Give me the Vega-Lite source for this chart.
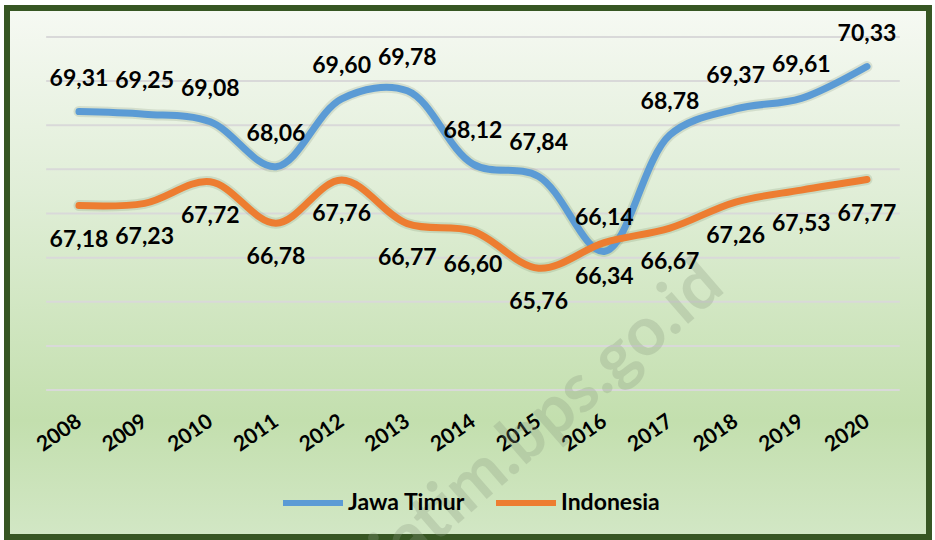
{
  "$schema": "https://vega.github.io/schema/vega-lite/v6.json",
  "width": 922,
  "height": 529,
  "autosize": {"type": "none"},
  "padding": {"left": 7, "top": 8, "right": 6, "bottom": 3},
  "background": "#ffffff",
  "config": {
    "locale": {"number": {"decimal": ",", "thousands": ".", "grouping": [3], "currency": ["", ""]}},
    "view": {
      "fill": {"gradient": "linear", "x1": 0, "y1": 0, "x2": 0, "y2": 1,
        "stops": [
          {"offset": 0, "color": "#f6f9f3"},
          {"offset": 0.35, "color": "#e0eed7"},
          {"offset": 0.78, "color": "#c3dfae"},
          {"offset": 1, "color": "#d2e7c5"}
        ]},
      "stroke": "#375623",
      "strokeWidth": 6
    },
    "axisX": {
      "title": null, "labelAngle": -35, "labelAlign": "right", "labelBaseline": "middle",
      "labelFont": "Lato", "labelFontWeight": "bold", "labelFontSize": 21, "labelColor": "#000000",
      "labelPadding": 0, "ticks": false, "tickSize": 0, "domain": false, "grid": false, "labelOverlap": false
    },
    "font": "Lato"
  },
  "datasets": {
    "series": [
      {"year": 2008, "region": "Jawa Timur", "value": 69.31},
      {"year": 2009, "region": "Jawa Timur", "value": 69.25},
      {"year": 2010, "region": "Jawa Timur", "value": 69.08},
      {"year": 2011, "region": "Jawa Timur", "value": 68.06},
      {"year": 2012, "region": "Jawa Timur", "value": 69.60},
      {"year": 2013, "region": "Jawa Timur", "value": 69.78},
      {"year": 2014, "region": "Jawa Timur", "value": 68.12},
      {"year": 2015, "region": "Jawa Timur", "value": 67.84},
      {"year": 2016, "region": "Jawa Timur", "value": 66.14},
      {"year": 2017, "region": "Jawa Timur", "value": 68.78},
      {"year": 2018, "region": "Jawa Timur", "value": 69.37},
      {"year": 2019, "region": "Jawa Timur", "value": 69.61},
      {"year": 2020, "region": "Jawa Timur", "value": 70.33},
      {"year": 2008, "region": "Indonesia", "value": 67.18},
      {"year": 2009, "region": "Indonesia", "value": 67.23},
      {"year": 2010, "region": "Indonesia", "value": 67.72},
      {"year": 2011, "region": "Indonesia", "value": 66.78},
      {"year": 2012, "region": "Indonesia", "value": 67.76},
      {"year": 2013, "region": "Indonesia", "value": 66.77},
      {"year": 2014, "region": "Indonesia", "value": 66.60},
      {"year": 2015, "region": "Indonesia", "value": 65.76},
      {"year": 2016, "region": "Indonesia", "value": 66.34},
      {"year": 2017, "region": "Indonesia", "value": 66.67},
      {"year": 2018, "region": "Indonesia", "value": 67.26},
      {"year": 2019, "region": "Indonesia", "value": 67.53},
      {"year": 2020, "region": "Indonesia", "value": 67.77}
    ],
    "grid": [
      {"level": 63}, {"level": 64}, {"level": 65}, {"level": 66}, {"level": 67},
      {"level": 68}, {"level": 69}, {"level": 70}, {"level": 71}
    ]
  },
  "layer": [
    {
      "data": {"name": "grid"},
      "mark": {"type": "rule", "color": "#d9d9d9", "strokeWidth": 2},
      "encoding": {
        "x": {"datum": 2007.5, "type": "quantitative", "scale": {"domain": [2006.904, 2020.945], "nice": false, "zero": false},
          "axis": {"values": [2008, 2009, 2010, 2011, 2012, 2013, 2014, 2015, 2016, 2017, 2018, 2019, 2020], "format": "d", "offset": -118}},
        "x2": {"datum": 2020.5},
        "y": {"field": "level", "type": "quantitative", "scale": {"domain": [59.669, 71.657], "nice": false, "zero": false}, "axis": null}
      }
    },
    {
      "data": {"name": "series"},
      "mark": {"type": "text", "text": "jatim.bps.go.id", "font": "Lato", "fontWeight": "bold", "fontSize": 68, "angle": -41, "color": "#8a9a80", "opacity": 0.28, "align": "center", "baseline": "middle"},
      "transform": [{"filter": "datum.year === 2008 && datum.region === 'Jawa Timur'"}],
      "encoding": {
        "x": {"datum": 2015.15, "type": "quantitative",
          "axis": {"values": [2008, 2009, 2010, 2011, 2012, 2013, 2014, 2015, 2016, 2017, 2018, 2019, 2020], "format": "d", "offset": -118}},
        "y": {"datum": 62.35, "type": "quantitative", "axis": null}
      }
    },
    {
      "data": {"name": "series"},
      "mark": {"type": "line", "interpolate": "catmull-rom", "strokeWidth": 11, "strokeCap": "round", "color": "#2f4a1f", "opacity": 0.12},
      "encoding": {
        "x": {"field": "year", "type": "quantitative",
          "axis": {"values": [2008, 2009, 2010, 2011, 2012, 2013, 2014, 2015, 2016, 2017, 2018, 2019, 2020], "format": "d", "offset": -118}},
        "y": {"field": "value", "type": "quantitative", "axis": null},
        "detail": {"field": "region", "type": "nominal"}
      }
    },
    {
      "data": {"name": "series"},
      "mark": {"type": "line", "interpolate": "catmull-rom", "strokeWidth": 7, "strokeCap": "round"},
      "encoding": {
        "x": {"field": "year", "type": "quantitative",
          "axis": {"values": [2008, 2009, 2010, 2011, 2012, 2013, 2014, 2015, 2016, 2017, 2018, 2019, 2020], "format": "d", "offset": -118}},
        "y": {"field": "value", "type": "quantitative", "axis": null},
        "color": {"field": "region", "type": "nominal",
          "scale": {"domain": ["Jawa Timur", "Indonesia"], "range": ["#5b9bd5", "#ed7d31"]},
          "legend": {"title": null, "orient": "none", "legendX": 273, "legendY": 462, "direction": "horizontal",
            "symbolType": "stroke", "symbolSize": 3600, "symbolStrokeWidth": 6,
            "labelFont": "Lato", "labelFontWeight": "bold", "labelFontSize": 23, "labelColor": "#000000",
            "labelOffset": 2, "columnPadding": 19}}
      }
    },
    {
      "data": {"name": "series"},
      "transform": [{"filter": "datum.region === 'Jawa Timur'"}],
      "mark": {"type": "text", "font": "Lato", "fontWeight": "bold", "fontSize": 23, "color": "#000000", "dy": -33, "baseline": "middle", "align": "center"},
      "encoding": {
        "x": {"field": "year", "type": "quantitative",
          "axis": {"values": [2008, 2009, 2010, 2011, 2012, 2013, 2014, 2015, 2016, 2017, 2018, 2019, 2020], "format": "d", "offset": -118}},
        "y": {"field": "value", "type": "quantitative", "axis": null},
        "text": {"field": "value", "type": "quantitative", "format": ".2f"}
      }
    },
    {
      "data": {"name": "series"},
      "transform": [{"filter": "datum.region === 'Indonesia'"}],
      "mark": {"type": "text", "font": "Lato", "fontWeight": "bold", "fontSize": 23, "color": "#000000", "dy": 34, "baseline": "middle", "align": "center"},
      "encoding": {
        "x": {"field": "year", "type": "quantitative",
          "axis": {"values": [2008, 2009, 2010, 2011, 2012, 2013, 2014, 2015, 2016, 2017, 2018, 2019, 2020], "format": "d", "offset": -118}},
        "y": {"field": "value", "type": "quantitative", "axis": null},
        "text": {"field": "value", "type": "quantitative", "format": ".2f"}
      }
    }
  ]
}
